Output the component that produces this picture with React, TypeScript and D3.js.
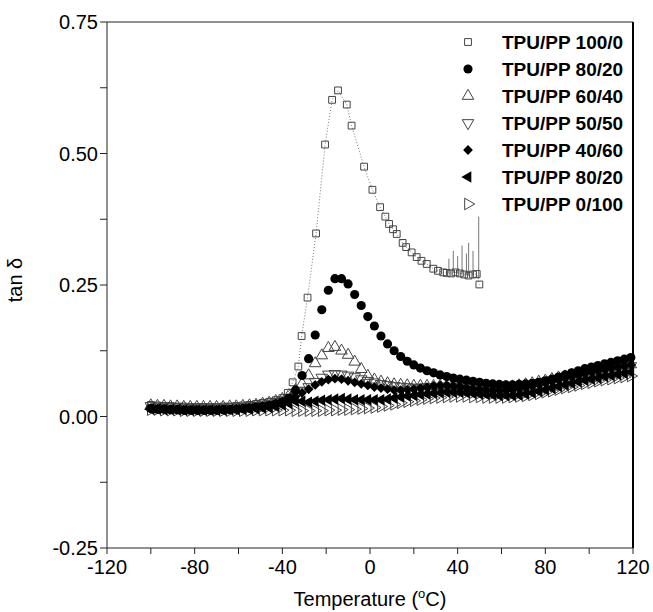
import React from "react";
import * as d3 from "d3";

// ---------- data ----------
const temps = [
  -100, -97, -94, -91, -88, -85, -82, -79, -76, -73,
  -70, -67, -64, -61, -58, -55, -52, -49, -46, -43,
  -40, -37, -34, -31, -28, -25, -22, -19, -16, -13,
  -10, -7, -4, -1, 2, 5, 8, 11, 14, 17,
  20, 23, 26, 29, 32, 35, 38, 41, 44, 47,
  50, 53, 56, 59, 62, 65, 68, 71, 74, 77,
  80, 83, 86, 89, 92, 95, 98, 101, 104, 107,
  110, 113, 116, 119,
];

const temps100 = [
  -100, -97, -94, -91, -88, -85, -82, -79, -76, -73, -70, -67, -64, -61, -58, -55, -52, -49, -46, -43,
  -40, -37.5, -35.3, -32.7, -31.2, -28.5, -24.6, -20.5, -17.3, -14.6, -10.6, -8.4, -2.7, 1.1, 4.6, 7,
  8.7, 10.5, 12.2, 14.9, 16.5, 19, 21.3, 23.5, 25.9, 28.9, 31, 33.4, 35, 37, 39, 41, 43, 45, 47, 48.7, 49.9,
];
const tpu100_0 = [
  0.022, 0.021, 0.02, 0.02, 0.019, 0.019, 0.018, 0.018, 0.018, 0.018, 0.018, 0.019, 0.019, 0.02, 0.021, 0.022, 0.024, 0.026, 0.028, 0.031,
  0.035, 0.045, 0.065, 0.095, 0.153, 0.226, 0.348, 0.517, 0.602, 0.62, 0.593, 0.553, 0.475, 0.431, 0.398, 0.38,
  0.366, 0.356, 0.347, 0.33, 0.322, 0.312, 0.303, 0.296, 0.29, 0.281, 0.277, 0.274, 0.273, 0.272, 0.274, 0.272, 0.27, 0.268, 0.27, 0.271, 0.251,
];
const spikeTemps100 = [36, 38, 40, 42, 44, 45, 47, 49.6];
const spikeBase100 = [0.273, 0.273, 0.272, 0.271, 0.269, 0.268, 0.27, 0.262];
const spikeTop100 = [0.3, 0.315, 0.305, 0.325, 0.31, 0.33, 0.315, 0.38];

const tpu80_20 = [
  0.015, 0.014, 0.014, 0.013, 0.013, 0.012, 0.012, 0.012, 0.012, 0.012,
  0.012, 0.013, 0.013, 0.014, 0.015, 0.016, 0.018, 0.019, 0.021, 0.024,
  0.028, 0.035, 0.05, 0.078, 0.11, 0.155, 0.203, 0.24, 0.262, 0.262,
  0.252, 0.232, 0.211, 0.19, 0.172, 0.153, 0.138, 0.125, 0.114, 0.105,
  0.098, 0.092, 0.087, 0.083, 0.079, 0.076, 0.073, 0.071, 0.069, 0.067,
  0.065, 0.063, 0.062, 0.061, 0.06, 0.06, 0.061, 0.062, 0.063, 0.065,
  0.068, 0.071, 0.075, 0.079, 0.083, 0.087, 0.091, 0.094, 0.097, 0.1,
  0.103, 0.106, 0.109, 0.112,
];
const tpu60_40 = [
  0.021, 0.02, 0.02, 0.019, 0.019, 0.018, 0.018, 0.018, 0.018, 0.018,
  0.018, 0.018, 0.019, 0.019, 0.02, 0.021, 0.022, 0.024, 0.026, 0.029,
  0.033, 0.04, 0.05, 0.062, 0.078, 0.101, 0.116, 0.13, 0.132, 0.125,
  0.117, 0.104, 0.09, 0.077, 0.07, 0.066, 0.063, 0.061, 0.06, 0.059,
  0.058, 0.058, 0.058, 0.058, 0.058, 0.058, 0.058, 0.057, 0.057, 0.056,
  0.055, 0.055, 0.055, 0.055, 0.056, 0.057, 0.059, 0.061, 0.063, 0.066,
  0.068, 0.071, 0.074, 0.076, 0.079, 0.081, 0.083, 0.086, 0.088, 0.091,
  0.093, 0.095, 0.097, 0.099,
];
const tpu50_50 = [
  0.02, 0.019, 0.019, 0.018, 0.018, 0.017, 0.017, 0.017, 0.017, 0.017,
  0.017, 0.017, 0.018, 0.018, 0.019, 0.02, 0.021, 0.023, 0.025, 0.028,
  0.031, 0.035, 0.04, 0.048, 0.056, 0.066, 0.074, 0.08, 0.081, 0.08,
  0.078, 0.075, 0.071, 0.068, 0.065, 0.062, 0.06, 0.058, 0.057, 0.056,
  0.055, 0.055, 0.056, 0.056, 0.057, 0.057, 0.057, 0.056, 0.055, 0.054,
  0.053, 0.052, 0.052, 0.052, 0.053, 0.054, 0.056, 0.058, 0.061, 0.064,
  0.066, 0.069, 0.071, 0.074, 0.077, 0.079, 0.081, 0.083, 0.086, 0.088,
  0.09, 0.092, 0.094, 0.096,
];
const tpu40_60 = [
  0.016, 0.015, 0.015, 0.014, 0.014, 0.013, 0.013, 0.013, 0.013, 0.013,
  0.013, 0.014, 0.014, 0.015, 0.016, 0.017, 0.018, 0.02, 0.022, 0.025,
  0.028, 0.032, 0.038, 0.045, 0.052, 0.06, 0.066, 0.07, 0.072, 0.071,
  0.068, 0.065, 0.062, 0.059, 0.056, 0.054, 0.052, 0.05, 0.05, 0.051,
  0.052, 0.054, 0.056, 0.058, 0.059, 0.059, 0.058, 0.057, 0.055, 0.053,
  0.052, 0.051, 0.05, 0.05, 0.05, 0.051, 0.053, 0.055, 0.058, 0.061,
  0.064, 0.067, 0.07, 0.073, 0.076, 0.079, 0.082, 0.085, 0.087, 0.09,
  0.092, 0.094, 0.096, 0.098,
];
const tpu80_20b = [
  0.014, 0.014, 0.013, 0.013, 0.013, 0.012, 0.012, 0.012, 0.012, 0.012,
  0.012, 0.012, 0.013, 0.013, 0.014, 0.014, 0.015, 0.016, 0.017, 0.019,
  0.022, 0.025, 0.029, 0.029, 0.027, 0.029, 0.031, 0.032, 0.033, 0.034,
  0.033, 0.032, 0.032, 0.032, 0.032, 0.032, 0.033, 0.035, 0.037, 0.039,
  0.04, 0.042, 0.043, 0.044, 0.045, 0.046, 0.046, 0.046, 0.045, 0.044,
  0.043, 0.042, 0.041, 0.04, 0.04, 0.04, 0.041, 0.043, 0.045, 0.048,
  0.051, 0.054, 0.057, 0.06, 0.063, 0.066, 0.069, 0.071, 0.073, 0.076,
  0.078, 0.08, 0.082, 0.084,
];
const tpu0_100 = [
  0.013, 0.013, 0.012, 0.012, 0.012, 0.011, 0.011, 0.011, 0.011, 0.011,
  0.011, 0.011, 0.011, 0.011, 0.011, 0.011, 0.012, 0.012, 0.012, 0.012,
  0.012, 0.012, 0.011, 0.011, 0.011, 0.011, 0.011, 0.012, 0.012, 0.013,
  0.013, 0.014, 0.015, 0.016, 0.017, 0.019, 0.021, 0.023, 0.026, 0.028,
  0.03, 0.032, 0.034, 0.035, 0.036, 0.037, 0.038, 0.038, 0.038, 0.037,
  0.037, 0.036, 0.036, 0.036, 0.036, 0.037, 0.038, 0.039, 0.041, 0.043,
  0.046, 0.048, 0.051, 0.054, 0.056, 0.059, 0.062, 0.064, 0.067, 0.069,
  0.071, 0.073, 0.075, 0.077,
];

const legendLabels = [
  "TPU/PP 100/0",
  "TPU/PP 80/20",
  "TPU/PP 60/40",
  "TPU/PP 50/50",
  "TPU/PP 40/60",
  "TPU/PP 80/20",
  "TPU/PP 0/100",
];
const yTicks = [0.75, 0.5, 0.25, 0.0, -0.25];
const yMinorTicks = [0.625, 0.375, 0.125, -0.125];
const xTicks = [-120, -80, -40, 0, 40, 80, 120];
const xMinorTicks = [-100, -60, -20, 20, 60, 100];

// ---------- drawing ----------
type MarkerKind = "square" | "circle" | "up" | "down" | "diamond" | "left" | "right";

const GRAY = "#444";

function markerPath(kind: MarkerKind): { d: string; rot: number; fill: string; stroke: string } {
  const tri = d3.symbol().type(d3.symbolTriangle).size(58)() as string;
  switch (kind) {
    case "square":
      return { d: d3.symbol().type(d3.symbolSquare).size(46)() as string, rot: 0, fill: "none", stroke: GRAY };
    case "circle":
      return { d: d3.symbol().type(d3.symbolCircle).size(66)() as string, rot: 0, fill: "#000", stroke: "none" };
    case "up":
      return { d: tri, rot: 0, fill: "none", stroke: GRAY };
    case "down":
      return { d: tri, rot: 180, fill: "none", stroke: GRAY };
    case "diamond":
      return { d: d3.symbol().type(d3.symbolSquare).size(48)() as string, rot: 45, fill: "#000", stroke: "none" };
    case "left":
      return { d: tri, rot: -90, fill: "#000", stroke: "none" };
    case "right":
      return { d: tri, rot: 90, fill: "none", stroke: GRAY };
  }
}

const seriesDefs: { xs: number[]; ys: number[]; kind: MarkerKind }[] = [
  { xs: temps100, ys: tpu100_0, kind: "square" },
  { xs: temps, ys: tpu60_40, kind: "up" },
  { xs: temps, ys: tpu50_50, kind: "down" },
  { xs: temps, ys: tpu0_100, kind: "right" },
  { xs: temps, ys: tpu80_20b, kind: "left" },
  { xs: temps, ys: tpu40_60, kind: "diamond" },
  { xs: temps, ys: tpu80_20, kind: "circle" },
];
const legendKinds: MarkerKind[] = ["square", "circle", "up", "down", "diamond", "left", "right"];

export default function App() {
  const W = 653;
  const H = 612;
  const left = 107;
  const right = 633;
  const top = 22;
  const bottom = 548;
  const x = d3.scaleLinear().domain([-120, 120]).range([left, right]);
  const y = d3.scaleLinear().domain([-0.25, 0.75]).range([bottom, top]);
  const font = "Arial, 'Liberation Sans', Helvetica, sans-serif";

  const line100 = d3
    .line<number>()
    .x((_, i) => x(temps100[i]))
    .y((v) => y(v))(tpu100_0) as string;

  return (
    <svg
      width={W}
      height={H}
      viewBox={`0 0 ${W} ${H}`}
      style={{ position: "absolute", left: 0, top: 0, background: "#fff" }}
      fontFamily={font}
    >
      <rect x={0} y={0} width={W} height={H} fill="#fff" />
      {/* dotted connecting line for 100/0 */}
      <path d={line100} fill="none" stroke="#777" strokeWidth={1} strokeDasharray="1,2" />
      {spikeTemps100.map((t, i) => (
        <line
          key={"sp" + i}
          x1={x(t)}
          x2={x(t)}
          y1={y(spikeBase100[i])}
          y2={y(spikeTop100[i])}
          stroke="#777"
          strokeWidth={1}
        />
      ))}
      {seriesDefs.map((s, si) => {
        const m = markerPath(s.kind);
        return (
          <g key={"s" + si}>
            {s.ys.map((v, i) => (
              <path
                key={i}
                d={m.d}
                transform={`translate(${x(s.xs[i])},${y(v)}) rotate(${m.rot})`}
                fill={m.fill}
                stroke={m.stroke}
                strokeWidth={1}
              />
            ))}
          </g>
        );
      })}

      {/* frame */}
      <line x1={left} x2={right} y1={top} y2={top} stroke="#222" strokeWidth={1} />
      <line x1={right} x2={right} y1={top} y2={bottom} stroke="#000" strokeWidth={2} />
      <line x1={left} x2={left} y1={top} y2={bottom} stroke="#222" strokeWidth={1} />
      <line x1={left} x2={right} y1={bottom} y2={bottom} stroke="#222" strokeWidth={1} />

      {/* y ticks */}
      {yTicks.map((t) => (
        <g key={"yt" + t}>
          <line x1={left - 7} x2={left} y1={y(t)} y2={y(t)} stroke="#222" strokeWidth={1} />
          <text x={left - 9} y={y(t)} dy="0.35em" textAnchor="end" fontSize={20}>
            {t.toFixed(2)}
          </text>
        </g>
      ))}
      {yMinorTicks.map((t) => (
        <line key={"ym" + t} x1={left - 7} x2={left} y1={y(t)} y2={y(t)} stroke="#222" strokeWidth={1} />
      ))}
      {/* x ticks */}
      {xTicks.map((t) => (
        <g key={"xt" + t}>
          <line x1={x(t)} x2={x(t)} y1={bottom} y2={bottom + 6} stroke="#222" strokeWidth={1} />
          <text x={x(t)} y={bottom + 26} textAnchor="middle" fontSize={20}>
            {t}
          </text>
        </g>
      ))}
      {xMinorTicks.map((t) => (
        <line key={"xm" + t} x1={x(t)} x2={x(t)} y1={bottom} y2={bottom + 6} stroke="#222" strokeWidth={1} />
      ))}

      {/* axis titles */}
      <text x={x(0)} y={606} textAnchor="middle" fontSize={20}>
        Temperature (
        <tspan fontSize={13} dy={-8}>o</tspan>
        <tspan dy={8}>C)</tspan>
      </text>
      <text transform={`translate(22,${(top + bottom) / 2 - 5}) rotate(-90)`} textAnchor="middle" fontSize={20}>
        tan δ
      </text>

      {/* legend */}
      {legendLabels.map((lab, i) => {
        const m = markerPath(legendKinds[i]);
        const ly = 42 + i * 27;
        return (
          <g key={"lg" + i}>
            <path d={m.d} transform={`translate(468,${ly}) rotate(${m.rot})`} fill={m.fill} stroke={m.stroke} strokeWidth={1} />
            <text x={502} y={ly} dy="0.36em" fontSize={19} fontWeight="bold">
              {lab}
            </text>
          </g>
        );
      })}
    </svg>
  );
}
